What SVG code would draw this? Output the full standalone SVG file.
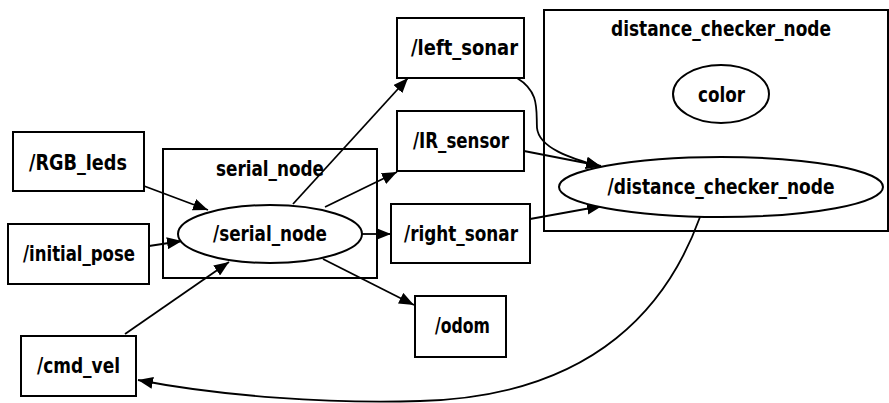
<svg xmlns="http://www.w3.org/2000/svg" width="889" height="403" viewBox="0 0 889 403">
<style>
.box{fill:#fff;stroke:#000;stroke-width:2}
.cl{fill:none;stroke:#000;stroke-width:2}
.t{font-family:"DejaVu Sans Condensed","DejaVu Sans",sans-serif;font-stretch:condensed;font-weight:bold;font-size:21px;text-anchor:middle;fill:#000}
.e{fill:none;stroke:#000;stroke-width:1.8}
</style>
<defs>
<marker id="ah" markerUnits="userSpaceOnUse" markerWidth="16" markerHeight="12" refX="15" refY="6" orient="auto">
<path d="M0,0 L15,6 L0,12 z" fill="#000"/>
</marker>
</defs>
<rect width="889" height="403" fill="#fff"/>
<g id="cluster_serial_node">
<rect class="cl" x="163" y="149" width="214" height="129"/>
<text class="t" x="270" y="176" textLength="108" lengthAdjust="spacingAndGlyphs">serial_node</text>
</g>
<g id="cluster_distance_checker_node">
<rect class="cl" x="544" y="10" width="344" height="221"/>
<text class="t" x="721" y="36" textLength="220" lengthAdjust="spacingAndGlyphs">distance_checker_node</text>
</g>
<g id="edges">
<path class="e" d="M144,186 L208,210" marker-end="url(#ah)"/>
<path class="e" d="M149,246 L182,241" marker-end="url(#ah)"/>
<path class="e" d="M125,334 L229,262" marker-end="url(#ah)"/>
<path class="e" d="M293,204 L408,78" marker-end="url(#ah)"/>
<path class="e" d="M325,207 L397,172" marker-end="url(#ah)"/>
<path class="e" d="M362,234 L391,234" marker-end="url(#ah)"/>
<path class="e" d="M323,259 L414,305" marker-end="url(#ah)"/>
<path class="e" d="M517,78 C540,92 536,110 537,128 C539,148 570,158 601,167" marker-end="url(#ah)"/>
<path class="e" d="M524,151 L601,166" marker-end="url(#ah)"/>
<path class="e" d="M530,219 L602,206" marker-end="url(#ah)"/>
<path class="e" d="M700,217 C670,300 600,396 420,401 C330,404 220,396 138,380" marker-end="url(#ah)"/>
</g>
<g id="RGB_leds">
<rect class="box" x="13" y="132" width="131" height="59"/>
<text class="t" x="78" y="170" textLength="98" lengthAdjust="spacingAndGlyphs">/RGB_leds</text>
</g>
<g id="initial_pose">
<rect class="box" x="8" y="224" width="141" height="60"/>
<text class="t" x="79" y="261" textLength="112" lengthAdjust="spacingAndGlyphs">/initial_pose</text>
</g>
<g id="cmd_vel">
<rect class="box" x="21" y="336" width="115" height="60"/>
<text class="t" x="78.5" y="373" textLength="83" lengthAdjust="spacingAndGlyphs">/cmd_vel</text>
</g>
<g id="serial_node">
<ellipse cx="270" cy="234" rx="92" ry="29" fill="#fff" stroke="#000" stroke-width="2"/>
<text class="t" x="270" y="241" textLength="114" lengthAdjust="spacingAndGlyphs">/serial_node</text>
</g>
<g id="left_sonar">
<rect class="box" x="397" y="18" width="127" height="60"/>
<text class="t" x="464.5" y="55" textLength="107" lengthAdjust="spacingAndGlyphs">/left_sonar</text>
</g>
<g id="IR_sensor">
<rect class="box" x="397" y="111" width="127" height="60"/>
<text class="t" x="461" y="148" textLength="96" lengthAdjust="spacingAndGlyphs">/IR_sensor</text>
</g>
<g id="right_sonar">
<rect class="box" x="391" y="204" width="139" height="59"/>
<text class="t" x="461" y="241" textLength="114" lengthAdjust="spacingAndGlyphs">/right_sonar</text>
</g>
<g id="odom">
<rect class="box" x="415" y="296" width="91" height="61"/>
<text class="t" x="462.5" y="333" textLength="55" lengthAdjust="spacingAndGlyphs">/odom</text>
</g>
<g id="color">
<ellipse cx="721" cy="94" rx="48" ry="29" fill="#fff" stroke="#000" stroke-width="2"/>
<text class="t" x="721.5" y="102" textLength="47" lengthAdjust="spacingAndGlyphs">color</text>
</g>
<g id="distance_checker_node">
<ellipse cx="721" cy="187" rx="162" ry="30" fill="#fff" stroke="#000" stroke-width="2"/>
<text class="t" x="721" y="194" textLength="227" lengthAdjust="spacingAndGlyphs">/distance_checker_node</text>
</g>
</svg>
